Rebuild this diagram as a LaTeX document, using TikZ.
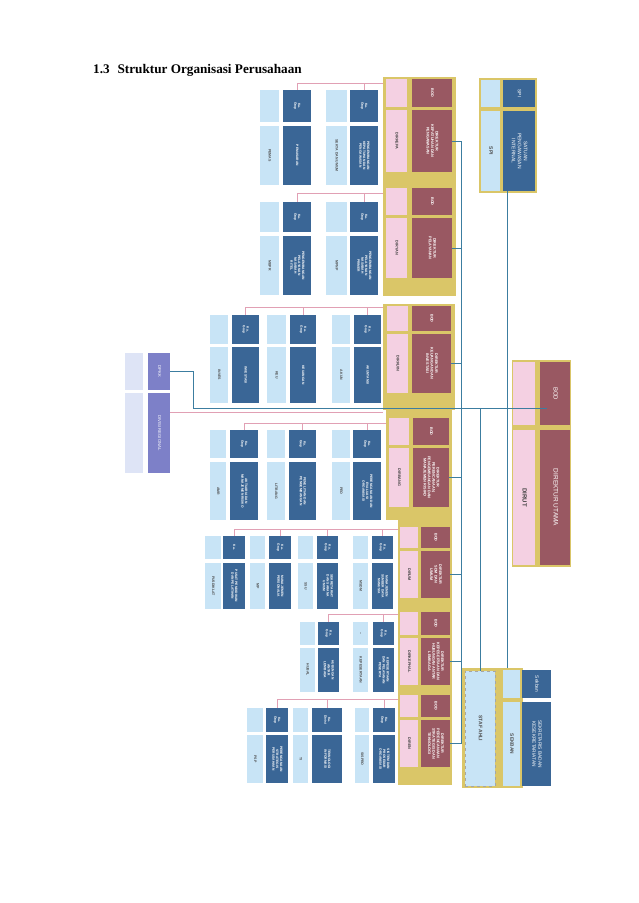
\documentclass[tikz,border=0pt]{standalone}
\usepackage{fontspec}
\usepackage{graphicx}
\setmainfont{Liberation Serif}
\setsansfont{Liberation Sans}
\usetikzlibrary{fit}

\definecolor{bodred}{RGB}{153,88,98}
\definecolor{dirpink}{RGB}{244,208,226}
\definecolor{tanyellow}{RGB}{218,198,104}
\definecolor{grupblue}{RGB}{58,102,150}
\definecolor{grupsky}{RGB}{200,228,246}
\definecolor{regpurple}{RGB}{125,128,200}
\definecolor{reglav}{RGB}{222,228,246}
\definecolor{cmdblue}{RGB}{60,125,160}
\definecolor{buspink}{RGB}{225,160,180}

% teks tegak (dibaca dari atas ke bawah)
\newcommand{\vt}[1]{\rotatebox{-90}{\begin{tabular}{@{}c@{}}#1\end{tabular}}}

\tikzset{
  box/.style={rectangle, inner sep=0pt, outer sep=0pt},
  tanbg/.style={box, fill=tanyellow},
  bodbox/.style={box, fill=bodred, text=white, font=\fontsize{3.8}{4.4}\selectfont\sffamily\bfseries},
  dirbox/.style={box, fill=dirpink, text=black!75, font=\fontsize{3.8}{4.4}\selectfont\sffamily\bfseries},
  grupbox/.style={box, fill=grupblue, text=white, font=\fontsize{3.3}{3.9}\selectfont\sffamily\bfseries},
  skybox/.style={box, fill=grupsky, text=black!70, font=\fontsize{3.5}{4}\selectfont\sffamily\bfseries},
  regbox/.style={box, fill=regpurple, text=white, font=\fontsize{4.2}{5}\selectfont\sffamily},
  lavbox/.style={box, fill=reglav},
  busline/.style={draw=buspink, line width=0.8pt},
  cmdline/.style={draw=cmdblue, line width=0.8pt},
}

\begin{document}
\begin{tikzpicture}[x=1pt, y=-1pt]
\useasboundingbox (0,0) rectangle (638,903);

\node[anchor=base west, inner sep=0pt, font=\fontsize{13.2}{15}\selectfont\bfseries] (judul) at (93,73) {1.3\hspace{0.6em}Struktur Organisasi Perusahaan};

% ---- direktorat 1
\node[tanbg, fit={(383,77) (456,186)}] (g1) {};
\node[dirbox, fit={(386,79) (407,107)}] (pt1) {};
\node[dirbox, fit={(386,110) (407,172)}] (pm1) {\vt{DIRKEPA}};
\node[bodbox, fit={(412,79) (452,107)}] (bod1) {\vt{BOD}};
\node[bodbox, fit={(412,110) (452,172)}] (dir1) {\vt{DIREKTUR\\KEPATUHAN DAN\\PENGAWASAN}};
\coordinate (g1bus) at (383,83);
\foreach \i/\la/\lb/\da/\db/\nm/\ab in {1/326/347/350/378/{PENGEMBANGAN\\KEPATUHAN DAN\\PENGAWASAN}/{SEKTA DAN UMUM},
  2/260/279/283/311/{PEMASARAN}/{PEMAS}}{
  \node[skybox, fit={(\la,90) (\lb,122)}] (g1s\i) {};
  \node[skybox, fit={(\la,126) (\lb,185)}] (g1a\i) {\vt{\ab}};
  \node[grupbox, fit={(\da,90) (\db,122)}] (g1k\i) {\vt{Ka.\\Grup}};
  \node[grupbox, fit={(\da,126) (\db,185)}] (g1n\i) {\vt{\nm}};
  \draw[busline] (g1bus) -| (g1k\i.north);
}

% ---- direktorat 2
\node[tanbg, fit={(383,186) (456,296)}] (g2) {};
\node[dirbox, fit={(386,188) (407,215)}] (pt2) {};
\node[dirbox, fit={(386,218) (407,278)}] (pm2) {\vt{DIRYAN}};
\node[bodbox, fit={(412,188) (452,215)}] (bod2) {\vt{BOD}};
\node[bodbox, fit={(412,218) (452,278)}] (dir2) {\vt{DIREKTUR\\PELAYANAN}};
\coordinate (g2bus) at (383,193);
\foreach \i/\la/\lb/\da/\db/\nm/\ab in {1/326/347/350/378/{PENGEMBANGAN\\PELAYANAN\\NASABAH\\PRIMER}/{MPNP},
  2/260/279/283/311/{PENGEMBANGAN\\PELAYANAN\\NASABAH\\RITEL}/{MBPR}}{
  \node[skybox, fit={(\la,202) (\lb,232)}] (g2s\i) {};
  \node[skybox, fit={(\la,236) (\lb,295)}] (g2a\i) {\vt{\ab}};
  \node[grupbox, fit={(\da,202) (\db,232)}] (g2k\i) {\vt{Ka.\\Grup}};
  \node[grupbox, fit={(\da,236) (\db,295)}] (g2n\i) {\vt{\nm}};
  \draw[busline] (g2bus) -| (g2k\i.north);
}

% ---- direktorat 3
\node[tanbg, fit={(383,304) (455,410)}] (g3) {};
\node[dirbox, fit={(387,306) (408,331)}] (pt3) {};
\node[dirbox, fit={(387,334) (408,393)}] (pm3) {\vt{DIRKUIN}};
\node[bodbox, fit={(412,306) (451,331)}] (bod3) {\vt{BOD}};
\node[bodbox, fit={(412,334) (451,393)}] (dir3) {\vt{DIREKTUR\\KEUANGAN DAN\\INVESTASI}};
\coordinate (g3bus) at (383,307);
\foreach \i/\la/\lb/\da/\db/\nm/\ab in {1/210/228/232/259/{INVESTASI}/{INVES},
  2/267/286/290/316/{KEUANGAN}/{KEU},
  3/332/350/354/381/{AKUNTANSI}/{AKUN}}{
  \node[skybox, fit={(\la,315) (\lb,344)}] (g3s\i) {};
  \node[skybox, fit={(\la,347) (\lb,403)}] (g3a\i) {\vt{\ab}};
  \node[grupbox, fit={(\da,315) (\db,344)}] (g3k\i) {\vt{Ka.\\Grup}};
  \node[grupbox, fit={(\da,347) (\db,403)}] (g3n\i) {\vt{\nm}};
  \draw[busline] (g3bus) -| (g3k\i.north);
}

% ---- direktorat 4
\node[tanbg, fit={(386,410) (452,520)}] (g4) {};
\node[dirbox, fit={(389,418) (409,445)}] (pt4) {};
\node[dirbox, fit={(389,448) (409,507)}] (pm4) {\vt{DIRBANG}};
\node[bodbox, fit={(413,418) (449,445)}] (bod4) {\vt{BOD}};
\node[bodbox, fit={(413,448) (449,507)}] (dir4) {\vt{DIREKTUR\\PERENCANAAN,\\PENGEMBANGAN DAN\\MANAJEMEN RISIKO}};
\coordinate (g4bus) at (386,423);
\foreach \i/\la/\lb/\da/\db/\nm/\ab in {1/210/226/230/258/{AKTUARIA DAN\\MANAJEMEN RISIKO}/{AMR},
  2/267/285/289/316/{PENELITIAN DAN\\PENGEMBANGAN}/{LITBANG},
  3/332/350/353/381/{PERENCANAAN DAN\\EVALUASI\\ORGANISASI}/{PEO}}{
  \node[skybox, fit={(\la,430) (\lb,458)}] (g4s\i) {};
  \node[skybox, fit={(\la,462) (\lb,520)}] (g4a\i) {\vt{\ab}};
  \node[grupbox, fit={(\da,430) (\db,458)}] (g4k\i) {\vt{Ka.\\Grup}};
  \node[grupbox, fit={(\da,462) (\db,520)}] (g4n\i) {\vt{\nm}};
  \draw[busline] (g4bus) -| (g4k\i.north);
}

% ---- direktorat 5
\node[tanbg, fit={(398,520) (452,610)}] (g5) {};
\node[dirbox, fit={(400,527) (418,548)}] (pt5) {};
\node[dirbox, fit={(400,551) (418,598)}] (pm5) {\vt{DIRUM}};
\node[bodbox, fit={(421,527) (450,548)}] (bod5) {\vt{BOD}};
\node[bodbox, fit={(421,551) (450,598)}] (dir5) {\vt{DIREKTUR\\SDM DAN\\UMUM}};
\coordinate (g5bus) at (398,529);
\foreach \i/\la/\lb/\da/\db/\tp/\nm/\ab in {1/205/221/223/245/{Ka.}/{PUSAT PENDIDIKAN\\DAN PELATIHAN}/{PUSDIKLAT},
  2/250/265/269/291/{Ka.\\Grup}/{MANAJEMEN\\PERSONALIA}/{MP},
  3/298/313/317/338/{Ka.\\Grup}/{SEKRETARIAT\\DAN SARANA\\UMUM}/{SSU},
  4/353/368/372/393/{Ka.\\Grup}/{MANAJEMEN\\SUMBER DAYA\\MANUSIA}/{MSDM}}{
  \node[skybox, fit={(\la,536) (\lb,559)}] (g5s\i) {};
  \node[skybox, fit={(\la,563) (\lb,609)}] (g5a\i) {\vt{\ab}};
  \node[grupbox, fit={(\da,536) (\db,559)}] (g5k\i) {\vt{\tp}};
  \node[grupbox, fit={(\da,563) (\db,609)}] (g5n\i) {\vt{\nm}};
  \draw[busline] (g5bus) -| (g5k\i.north);
}

% ---- direktorat 6
\node[tanbg, fit={(398,610) (452,693)}] (g6) {};
\node[dirbox, fit={(400,612) (418,635)}] (pt6) {};
\node[dirbox, fit={(400,638) (418,685)}] (pm6) {\vt{DIRKEPHAL}};
\node[bodbox, fit={(421,612) (450,635)}] (bod6) {\vt{BOD}};
\node[bodbox, fit={(421,638) (450,685)}] (dir6) {\vt{DIREKTUR\\KEPESERTAAN DAN\\HUBUNGAN ANTAR\\LEMBAGA}};
\coordinate (g6bus) at (398,614);
\foreach \i/\la/\lb/\da/\db/\nm/\ab in {1/300/315/318/339/{HUBUNGAN\\ANTAR\\LEMBAGA}/{HUBAL},
  2/353/368/373/394/{KEPESERTAAN\\DAN PELAYANAN\\PESERTA}/{KEPESERTAAN}}{
  \node[skybox, fit={(\la,622) (\lb,645)}] (g6s\i) {};
  \node[skybox, fit={(\la,648) (\lb,692)}] (g6a\i) {\vt{\ab}};
  \node[grupbox, fit={(\da,622) (\db,645)}] (g6k\i) {\vt{Ka.\\Grup}};
  \node[grupbox, fit={(\da,648) (\db,692)}] (g6n\i) {\vt{\nm}};
  \draw[busline] (g6bus) -| (g6k\i.north);
}
\node[skybox] (g6dash) at (g6s2) {\vt{--}};

% ---- direktorat 7
\node[tanbg, fit={(398,693) (452,785)}] (g7) {};
\node[dirbox, fit={(400,695) (418,717)}] (pt7) {};
\node[dirbox, fit={(400,720) (418,767)}] (pm7) {\vt{DIREN}};
\node[bodbox, fit={(421,695) (450,717)}] (bod7) {\vt{BOD}};
\node[bodbox, fit={(421,720) (450,767)}] (dir7) {\vt{DIREKTUR\\PERENCANAAN\\STRATEGIS DAN\\TEKNOLOGI}};
\coordinate (g7bus) at (398,699);
\foreach \i/\la/\lb/\da/\db/\tp/\nm/\ab in {1/247/263/266/288/{Ka.\\Grup}/{PERENCANAAN\\STRATEGIS\\PERUSAHAAN}/{PSP},
  2/293/308/312/342/{Ka.\\Divisi}/{TEKNOLOGI\\INFORMASI}/{TI},
  3/355/369/373/395/{Ka.\\Grup}/{SISTEM DAN\\PROSEDUR\\ORGANISASI}/{SISPRO}}{
  \node[skybox, fit={(\la,708) (\lb,732)}] (g7s\i) {};
  \node[skybox, fit={(\la,735) (\lb,783)}] (g7a\i) {\vt{\ab}};
  \node[grupbox, fit={(\da,708) (\db,732)}] (g7k\i) {\vt{\tp}};
  \node[grupbox, fit={(\da,735) (\db,783)}] (g7n\i) {\vt{\nm}};
  \draw[busline] (g7bus) -| (g7k\i.north);
}

% ---- regional
\node[lavbox, fit={(125,353) (143,390)}] (dpkkl) {};
\node[lavbox, fit={(125,393) (143,473)}] (regl) {};
\node[regbox, fit={(148,353) (170,390)}] (dpkk) {\vt{DPKK}};
\node[regbox, fit={(148,393) (170,473)}] (divreg) {\vt{DIVISI REGIONAL}};
\coordinate (regbus) at (383,412);
\draw[busline] (regbus -| divreg.east) -- (regbus);

% ---- SPI
\node[tanbg, fit={(479,78) (537,193)}] (spi) {};
\node[skybox, fit={(481,80) (500,107)}] (spisl) {};
\node[skybox, font=\fontsize{5}{6}\selectfont\sffamily\bfseries, fit={(481,111) (500,191)}] (spiab) {\vt{SPI}};
\node[grupbox, font=\fontsize{4.8}{6}\selectfont\sffamily, fit={(503,80) (535,107)}] (spitop) {\vt{SPI}};
\node[grupbox, font=\fontsize{5}{6}\selectfont\sffamily, fit={(503,111) (535,191)}] (spimain) {\vt{SATUAN\\PENGAWASAN\\INTERNAL}};

% ---- DIRUT
\node[tanbg, fit={(512,360) (571,567)}] (dirut) {};
\node[dirbox, fit={(513,362) (535,425)}] (ptut) {};
\node[dirbox, font=\fontsize{6}{7}\selectfont\sffamily\bfseries, fit={(513,430) (535,565)}] (pmut) {\vt{DIRUT}};
\node[bodbox, font=\fontsize{6}{7}\selectfont\sffamily, fit={(540,362) (570,425)}] (bodut) {\vt{BOD}};
\node[bodbox, font=\fontsize{6.5}{7.5}\selectfont\sffamily, fit={(540,430) (570,565)}] (dirutama) {\vt{DIREKTUR UTAMA}};

% ---- SEKBAN & staf ahli
\node[tanbg, fit={(462,668) (523,788)}] (sekban) {};
\node[skybox, draw=black!35, dashed, line width=0.6pt, font=\fontsize{5}{6}\selectfont\sffamily\bfseries, fit={(465,671) (495,786)}] (stafahli) {\vt{STAF AHLI}};
\node[skybox, fit={(503,670) (520,698)}] (sekbsl) {};
\node[skybox, font=\fontsize{4.8}{6}\selectfont\sffamily\bfseries, fit={(503,702) (520,786)}] (sekbab) {\vt{SEKBAN}};
\node[grupbox, font=\fontsize{4.8}{6}\selectfont\sffamily, fit={(522,670) (551,698)}] (sekbtop) {\vt{Sekban}};
\node[grupbox, font=\fontsize{4.8}{6}\selectfont\sffamily, fit={(522,702) (551,786)}] (sekbmain) {\vt{SEKRETARIS BADAN\\KESEKRETARIATAN}};

% ---- garis komando
\coordinate (spine) at (461,0);
\coordinate (spileg) at (507,0);
\coordinate (hubL) at (193,408);
\coordinate (hubR) at (547,408);
\draw[cmdline] (dir1.east -| spine) -- (dir7.east -| spine);
\foreach \g in {1,...,7}
  \draw[cmdline] (dir\g.east) -- (dir\g.east -| spine);
\draw[cmdline] (dpkk.east) -| (hubL) -- (hubR);
\draw[cmdline] (stafahli.north |- hubR) -- (stafahli.north);
\draw[cmdline] (spimain.south -| spileg) -- (sekban.north -| spileg);

\end{tikzpicture}
\end{document}
